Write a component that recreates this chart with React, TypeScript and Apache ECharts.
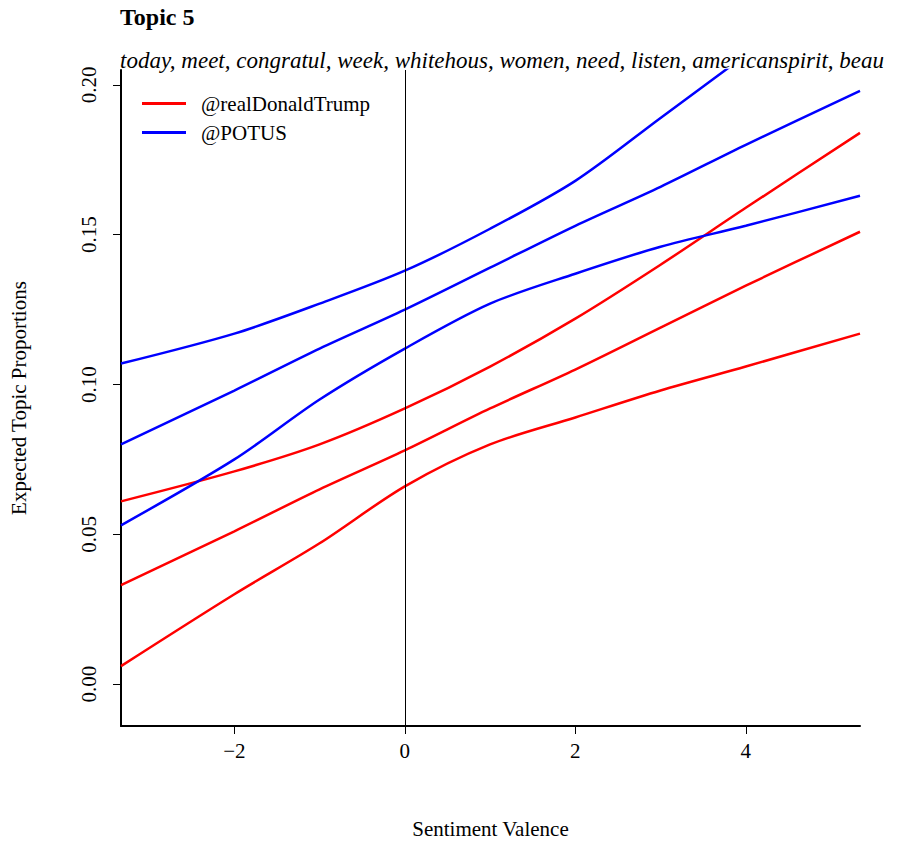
import React, { useEffect, useRef } from 'react';
import * as echarts from 'echarts';

const xs = [-3.33, -2, -1, 0, 1, 2, 3, 4, 5.34];
const trumpMean = [0.033, 0.051, 0.065, 0.078, 0.092, 0.105, 0.119, 0.133, 0.151];
const trumpUpper = [0.061, 0.071, 0.080, 0.092, 0.106, 0.122, 0.140, 0.159, 0.184];
const trumpLower = [0.006, 0.030, 0.047, 0.066, 0.080, 0.089, 0.098, 0.106, 0.117];
const potusMean = [0.080, 0.098, 0.112, 0.125, 0.139, 0.153, 0.166, 0.180, 0.198];
const potusUpper = [0.107, 0.117, 0.127, 0.138, 0.152, 0.168, 0.189, 0.210, 0.238];
const potusLower = [0.053, 0.075, 0.095, 0.112, 0.127, 0.137, 0.146, 0.153, 0.163];
const xTicks = [-2, 0, 2, 4];
const yTicks = [0, 0.05, 0.1, 0.15, 0.2];
const words = 'today, meet, congratul, week, whitehous, women, need, listen, americanspirit, beau';

const font = '"Liberation Serif", "DejaVu Serif", serif';

const App: React.FC = () => {
  const chartRef = useRef<HTMLDivElement>(null);

  useEffect(() => {
    if (!chartRef.current) return;
    document.body.style.margin = '0';
    const chart = echarts.init(chartRef.current, undefined, { renderer: 'svg' });

    const pairs = (ys: number[]) => xs.map((x, i) => [x, ys[i]]);
    const line = (name: string, color: string, ys: number[]) => ({
      name,
      type: 'line',
      data: pairs(ys),
      showSymbol: false,
      smooth: 0.3,
      lineStyle: { color, width: 2.5 },
      itemStyle: { color },
      silent: true,
    });

    const option: any = {
      animation: false,
      textStyle: { fontFamily: font },
      title: [
        { text: 'Topic 5', left: 115, top: 0, textStyle: { fontFamily: font, fontSize: 24, fontWeight: 'bold', color: '#000' } },
        { text: words, left: 115, top: 44, textStyle: { fontFamily: font, fontSize: 23, fontStyle: 'italic', fontWeight: 'normal', color: '#000' } },
      ],
      legend: {
        data: ['@realDonaldTrump', '@POTUS'],
        orient: 'vertical',
        left: 137,
        top: 88,
        itemWidth: 44,
        itemHeight: 3,
        itemGap: 8,
        icon: 'rect',
        textStyle: { fontFamily: font, fontSize: 21, color: '#000', padding: [0, 0, 0, 10] },
      },
      grid: { left: 115, right: 58, top: 70, bottom: 117 },
      xAxis: {
        type: 'value',
        min: -3.33,
        max: 5.34,
        name: 'Sentiment Valence',
        nameLocation: 'middle',
        nameGap: 92,
        nameTextStyle: { fontFamily: font, fontSize: 21, color: '#000' },
        axisLine: { show: true, onZero: false, lineStyle: { color: '#000', width: 2 } },
        axisTick: { show: true, length: 8, customValues: xTicks, lineStyle: { color: '#000' } },
        axisLabel: {
          customValues: xTicks,
          margin: 14,
          fontSize: 21,
          color: '#000',
          fontFamily: font,
          formatter: (v: number) => String(v).replace('-', '\u2212'),
        },
        splitLine: { show: false },
      },
      yAxis: {
        type: 'value',
        min: -0.014,
        max: 0.205,
        name: 'Expected Topic Proportions',
        nameLocation: 'middle',
        nameGap: 92,
        nameTextStyle: { fontFamily: font, fontSize: 21, color: '#000' },
        axisLine: { show: true, onZero: false, lineStyle: { color: '#000', width: 2 } },
        axisTick: { show: true, length: 8, customValues: yTicks, lineStyle: { color: '#000' } },
        axisLabel: {
          customValues: yTicks,
          rotate: 90,
          margin: 22,
          fontSize: 21,
          color: '#000',
          fontFamily: font,
          formatter: (v: number) => v.toFixed(2),
        },
        splitLine: { show: false },
      },
      series: [
        {
          ...line('@realDonaldTrump', '#ff0000', trumpMean),
          markLine: {
            silent: true,
            symbol: 'none',
            label: { show: false },
            lineStyle: { color: '#000', width: 1, type: 'solid' },
            data: [{ xAxis: 0 }],
          },
        },
        line('@realDonaldTrump', '#ff0000', trumpUpper),
        line('@realDonaldTrump', '#ff0000', trumpLower),
        line('@POTUS', '#0000ff', potusMean),
        line('@POTUS', '#0000ff', potusUpper),
        line('@POTUS', '#0000ff', potusLower),
      ],
    };

    chart.setOption(option);
    return () => chart.dispose();
  }, []);

  return <div ref={chartRef} style={{ width: 918, height: 844 }} />;
};

export default App;
